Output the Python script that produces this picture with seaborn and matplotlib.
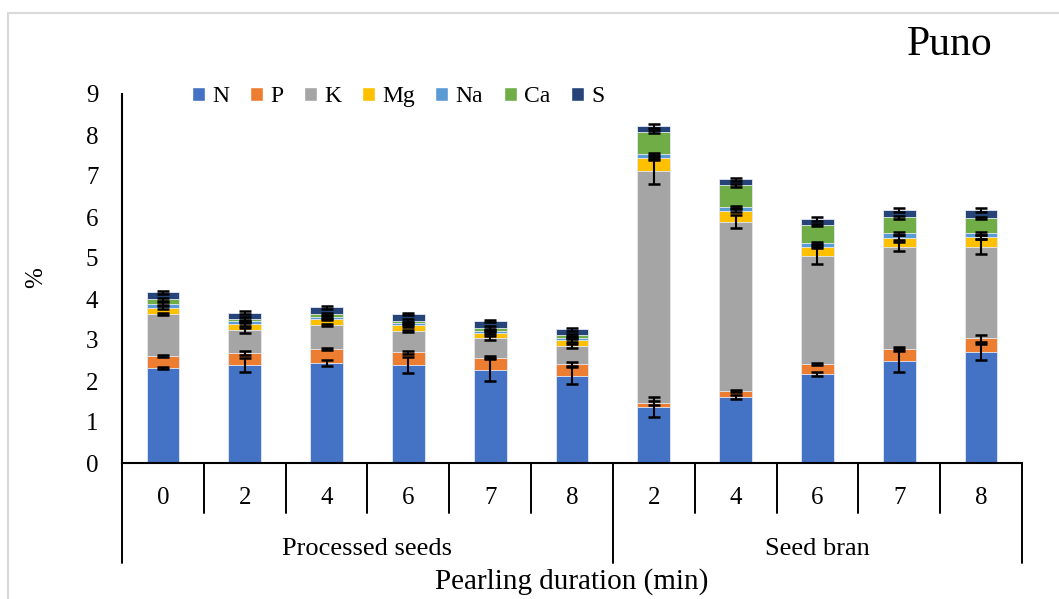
import numpy as np
import pandas as pd
import matplotlib.pyplot as plt
import seaborn as sns
from matplotlib.patches import Patch
from matplotlib.lines import Line2D

# === Data ===
samples = ["PS-0", "PS-2", "PS-4", "PS-6", "PS-7", "PS-8",
           "SB-2", "SB-4", "SB-6", "SB-7", "SB-8"]
durations = ["0", "2", "4", "6", "7", "8", "2", "4", "6", "7", "8"]
groups = ["Processed seeds", "Seed bran"]
group_sizes = [6, 5]
elements = ["N", "P", "K", "Mg", "Na", "Ca", "S"]
colors = ["#4472C4", "#ED7D31", "#A5A5A5", "#FFC000", "#5B9BD5", "#70AD47", "#264478"]

N = [2.32, 2.39, 2.44, 2.39, 2.28, 2.13, 1.36, 1.62, 2.17, 2.50, 2.71]
P = [0.29, 0.29, 0.34, 0.31, 0.29, 0.28, 0.10, 0.14, 0.24, 0.28, 0.33]
K = [1.02, 0.56, 0.58, 0.52, 0.48, 0.45, 5.65, 4.13, 2.65, 2.50, 2.24]
Mg = [0.16, 0.16, 0.15, 0.14, 0.13, 0.14, 0.32, 0.26, 0.22, 0.22, 0.23]
Na = [0.10, 0.06, 0.05, 0.05, 0.05, 0.06, 0.11, 0.10, 0.08, 0.10, 0.09]
Ca = [0.10, 0.05, 0.07, 0.06, 0.06, 0.05, 0.54, 0.52, 0.44, 0.39, 0.37]
S = [0.17, 0.16, 0.17, 0.16, 0.18, 0.15, 0.14, 0.15, 0.16, 0.18, 0.20]

N_err = [0.02, 0.16, 0.07, 0.19, 0.29, 0.20, 0.25, 0.05, 0.04, 0.27, 0.19]
P_err = [0.02, 0.05, 0.03, 0.04, 0.04, 0.05, 0.05, 0.03, 0.03, 0.04, 0.08]
K_err = [0.03, 0.06, 0.03, 0.03, 0.04, 0.05, 0.31, 0.16, 0.20, 0.11, 0.18]
Mg_err = [0.03, 0.05, 0.03, 0.04, 0.04, 0.04, 0.03, 0.04, 0.04, 0.05, 0.05]
Na_err = [0.03, 0.04, 0.04, 0.04, 0.03, 0.03, 0.03, 0.03, 0.03, 0.03, 0.03]
Ca_err = [0.03, 0.04, 0.04, 0.04, 0.04, 0.04, 0.03, 0.03, 0.03, 0.03, 0.03]
S_err = [0.03, 0.04, 0.04, 0.03, 0.03, 0.03, 0.05, 0.03, 0.05, 0.04, 0.04]

values = [N, P, K, Mg, Na, Ca, S]
errors = [N_err, P_err, K_err, Mg_err, Na_err, Ca_err, S_err]

# === Long table with cumulative tops ===
tops = np.cumsum(np.array(values), axis=0)
rows = []
for i, el in enumerate(elements):
    for j, s in enumerate(samples):
        rows.append({"sample": s, "element": el, "top": tops[i, j], "err": errors[i][j]})
df = pd.DataFrame(rows)

# === Style ===
sns.set_style("white")
plt.rcParams["font.family"] = ["Liberation Serif", "DejaVu Serif"]
plt.rcParams["text.color"] = "black"
plt.rcParams["ytick.color"] = "black"
plt.rcParams["ytick.labelcolor"] = "black"

fig = plt.figure(figsize=(10.59, 5.99), dpi=100)
ax = fig.add_axes([122 / 1059, 1 - 463 / 599, 900 / 1059, 369 / 599])

# stacked bars: draw tallest cumulative first
for el, c in reversed(list(zip(elements, colors))):
    sns.barplot(data=df[df["element"] == el], x="sample", y="top", order=samples,
                color=c, saturation=1, width=0.4, errorbar=None,
                edgecolor="#e6eaf2", linewidth=0.6, ax=ax)

for el in elements:
    sub = df[df["element"] == el]
    ax.errorbar(np.arange(len(samples)), sub["top"], yerr=sub["err"], fmt="none",
                ecolor="black", elinewidth=1.5, capsize=4.5, capthick=1.8, zorder=5)

ax.set_xlim(-0.5, len(samples) - 0.5)
ax.set_ylim(0, 9)
ax.set_yticks(range(10))
ax.set_xticks([])
ax.set_xlabel("")
ax.set_ylabel("")
ax.tick_params(axis="y", direction="out", length=5, width=1.4, labelsize=18, pad=12,
               color="black", labelcolor="black")
for side in ["top", "right"]:
    ax.spines[side].set_visible(False)
for side in ["left", "bottom"]:
    ax.spines[side].set_color("black")
    ax.spines[side].set_linewidth(1.5)

# === Multi-level category axis ===
xt = ax.get_xaxis_transform()
for j, d in enumerate(durations):
    ax.text(j, -0.095, d, transform=xt, ha="center", va="center", fontsize=18, color="black")
bounds = np.cumsum([0] + group_sizes)
for b in range(len(samples) + 1):
    depth = -0.271 if b in bounds else -0.1355
    ax.plot([b - 0.5, b - 0.5], [0, depth], transform=xt, color="black",
            lw=1.4, clip_on=False)
for g, start, size in zip(groups, bounds[:-1], group_sizes):
    ax.text(start + size / 2 - 0.5, -0.232, g, transform=xt, ha="center",
            va="center", fontsize=19, color="black")

fig.text(572 / 1059, 1 - 582 / 599, "Pearling duration (min)", ha="center",
         va="center", fontsize=21, color="black")
fig.text(36 / 1059, 1 - 278 / 599, "%", ha="center", va="center",
         rotation=90, fontsize=18, color="black")
fig.text(993 / 1059, 1 - 45 / 599, "Puno", ha="right", va="center", fontsize=30,
         color="black")

# === Legend ===
handles = [Patch(facecolor=c) for c in colors]
leg = ax.legend(handles, elements, ncol=7, loc="center left", bbox_to_anchor=(0.078, 0.992),
                frameon=False, fontsize=17, handlelength=0.55, handleheight=0.55,
                handletextpad=0.3, columnspacing=0.88, borderpad=0, borderaxespad=0)
for t in leg.get_texts():
    t.set_color("black")

# chart area border
fig.add_artist(Line2D([8 / 1059, 8 / 1059], [0, 1 - 13 / 599], color="#d9d9d9", lw=1.5))
fig.add_artist(Line2D([8 / 1059, 1], [1 - 13 / 599, 1 - 13 / 599], color="#d9d9d9", lw=1.5))

fig.savefig("out.png", dpi=100)
